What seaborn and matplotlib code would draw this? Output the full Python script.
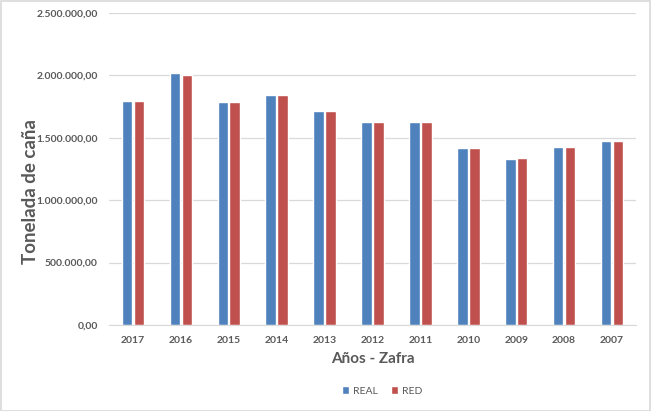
import pandas as pd
import seaborn as sns
import matplotlib.pyplot as plt
from matplotlib.ticker import FuncFormatter
from matplotlib.patches import Rectangle

years = ['2017', '2016', '2015', '2014', '2013', '2012', '2011', '2010', '2009', '2008', '2007']
real = [1795000, 2019000, 1787000, 1843000, 1715000, 1627000, 1627000, 1418000, 1330000, 1426000, 1474000]
red = [1795000, 2003000, 1787000, 1843000, 1715000, 1627000, 1627000, 1418000, 1338000, 1426000, 1474000]
series = ['REAL', 'RED']
colors = ['#4F81BD', '#C0504D']

df = pd.DataFrame({
    'year': years * 2,
    'value': real + red,
    'serie': ['REAL'] * len(years) + ['RED'] * len(years),
})

sns.set_style('white')
plt.rcParams['font.family'] = ['Lato', 'DejaVu Sans']

fig = plt.figure(figsize=(6.51, 4.11), dpi=100)
ax = fig.add_axes([109 / 651, 1 - 325 / 411, (636 - 109) / 651, (325 - 13) / 411])

sns.barplot(data=df, x='year', y='value', hue='serie', order=years, hue_order=series,
            palette=colors, width=0.5, gap=0.12, saturation=1, ax=ax, legend=True)

def es_fmt(v, pos):
    s = f'{v:,.2f}'
    return s.replace(',', 'X').replace('.', ',').replace('X', '.')

ax.set_ylim(0, 2500000)
ax.set_xlim(-0.5, len(years) - 0.5)
ax.set_yticks(range(0, 2500001, 500000))
ax.yaxis.set_major_formatter(FuncFormatter(es_fmt))
ax.grid(axis='y', color='#D9D9D9', linewidth=0.9)
ax.set_axisbelow(True)
for side in ['top', 'right', 'left']:
    ax.spines[side].set_visible(False)
ax.spines['bottom'].set_color('#D9D9D9')
ax.tick_params(axis='both', length=0, colors='#595959', labelsize=7.5)
ax.tick_params(axis='x', pad=8)
ax.tick_params(axis='y', pad=8)
for lbl in ax.get_xticklabels() + ax.get_yticklabels():
    lbl.set_fontweight('bold')

ax.set_xlabel('Años - Zafra', fontsize=11, fontweight='bold', color='#595959', labelpad=5)
ax.set_ylabel('Tonelada de caña', fontsize=13.5, fontweight='bold', color='#595959')
ax.yaxis.set_label_coords((39 - 109) / 527, (325 - 192) / 312)

handles, labels = ax.get_legend_handles_labels()
ax.legend(handles, labels, loc='center', bbox_to_anchor=(0.5 * (109 + 636) / 651 + 0.015, 20 / 411),
          bbox_transform=fig.transFigure, ncol=2, frameon=False, fontsize=7.5,
          handlelength=0.7, handleheight=0.7, handletextpad=0.4, columnspacing=1.2,
          labelcolor='#595959')

fig.patches.append(Rectangle((0.001, 0.001), 0.998, 0.997, transform=fig.transFigure,
                             fill=False, edgecolor='#D9D9D9', linewidth=1.2))

fig.savefig('out.png', dpi=100)
